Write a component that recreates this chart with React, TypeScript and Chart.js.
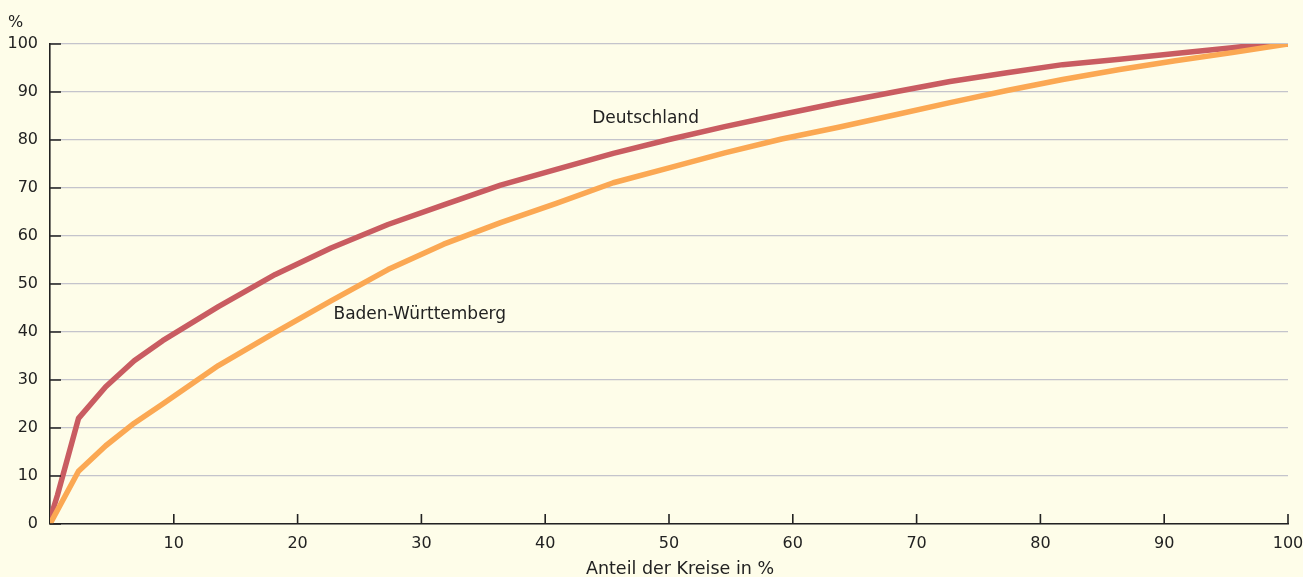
import React, { useEffect, useRef } from "react";
import { Chart, registerables } from "chart.js";

Chart.register(...registerables);

// ---- Data ----
const deutschlandX = [0, 0.6, 2.3, 4.5, 6.8, 9.1, 13.6, 18.2, 22.7, 27.3, 31.8, 36.4, 40.9, 45.5, 50, 54.5, 59.1, 63.6, 68.2, 72.7, 77.3, 81.8, 86.4, 90.9, 95.5, 97.7, 100];
const deutschlandY = [1, 6, 22, 28.6, 34, 38.2, 45.3, 52.0, 57.5, 62.4, 66.5, 70.6, 73.9, 77.2, 80.1, 82.8, 85.3, 87.7, 90.0, 92.2, 94.0, 95.7, 96.8, 98.0, 99.2, 99.9, 100];

const bwX = [0, 2.3, 4.5, 6.8, 9.1, 13.6, 18.2, 22.7, 27.3, 31.8, 36.4, 40.9, 45.5, 50, 54.5, 59.1, 63.6, 68.2, 72.7, 77.3, 81.8, 86.4, 90.9, 95.5, 100];
const bwY = [0, 11, 16.3, 21.0, 25.0, 33.0, 39.9, 46.5, 53.0, 58.3, 62.8, 66.8, 71.1, 74.2, 77.3, 80.2, 82.6, 85.2, 87.8, 90.3, 92.6, 94.7, 96.5, 98.2, 100];

const xTickValues = [10, 20, 30, 40, 50, 60, 70, 80, 90, 100];
const yTickValues = [0, 10, 20, 30, 40, 50, 60, 70, 80, 90, 100];

const seriesNames = ["Baden-Württemberg", "Deutschland"];
const xAxisTitle = "Anteil der Kreise in %";
const yAxisUnit = "%";

const BG = "#FEFDE9";
const INK = "#222222";
const FONT = "'DejaVu Sans', 'Liberation Sans', sans-serif";

export default function App() {
  const canvasRef = useRef<HTMLCanvasElement | null>(null);

  useEffect(() => {
    document.body.style.margin = "0";
    document.body.style.background = BG;
    const canvas = canvasRef.current;
    if (!canvas) return;

    const decorPlugin = {
      id: "decor",
      beforeDraw(chart: any) {
        const { ctx, width, height } = chart;
        ctx.save();
        ctx.fillStyle = BG;
        ctx.fillRect(0, 0, width, height);
        ctx.restore();
      },
      afterDraw(chart: any) {
        const { ctx, chartArea } = chart;
        const xs = chart.scales.x;
        const ys = chart.scales.y;
        ctx.save();
        // inward tick marks
        ctx.strokeStyle = INK;
        ctx.lineWidth = 1.6;
        ctx.beginPath();
        xTickValues.forEach((v) => {
          const px = xs.getPixelForValue(v);
          ctx.moveTo(px, chartArea.bottom);
          ctx.lineTo(px, chartArea.bottom - 10);
        });
        yTickValues.forEach((v) => {
          const py = ys.getPixelForValue(v);
          ctx.moveTo(chartArea.left, py);
          ctx.lineTo(chartArea.left + 11, py);
        });
        ctx.stroke();

        ctx.fillStyle = INK;
        ctx.textBaseline = "alphabetic";
        // unit label
        ctx.font = `16px ${FONT}`;
        ctx.textAlign = "left";
        ctx.fillText(yAxisUnit, 8, 27);
        // x axis title
        ctx.font = `17.5px ${FONT}`;
        ctx.textAlign = "center";
        ctx.fillText(xAxisTitle, (chartArea.left + chartArea.right) / 2 + 11, 574);
        // series labels
        ctx.font = `17px ${FONT}`;
        ctx.textAlign = "left";
        ctx.fillText(seriesNames[1], xs.getPixelForValue(43.8), ys.getPixelForValue(83.5));
        ctx.fillText(seriesNames[0], xs.getPixelForValue(22.9), ys.getPixelForValue(42.7));
        ctx.restore();
      },
    };

    const chart = new Chart(canvas, {
      type: "line",
      data: {
        datasets: [
          {
            label: seriesNames[0],
            data: bwX.map((x, i) => ({ x, y: bwY[i] })),
            borderColor: "#FBA853",
            borderWidth: 5.5,
            pointRadius: 0,
            tension: 0,
            fill: false,
            borderJoinStyle: "round",
          },
          {
            label: seriesNames[1],
            data: deutschlandX.map((x, i) => ({ x, y: deutschlandY[i] })),
            borderColor: "#C95C61",
            borderWidth: 5.5,
            pointRadius: 0,
            tension: 0,
            fill: false,
            borderJoinStyle: "round",
          },
        ],
      },
      options: {
        animation: false,
        responsive: false,
        maintainAspectRatio: false,
        events: [],
        layout: { padding: { top: 44, right: 15, left: 0, bottom: 0 } },
        plugins: {
          legend: { display: false },
          tooltip: { enabled: false },
          title: { display: false },
        },
        scales: {
          x: {
            type: "linear",
            min: 0,
            max: 100,
            afterFit: (s: any) => {
              s.height = 53;
              s.paddingLeft = 0;
              s.paddingRight = 0;
            },
            ticks: {
              stepSize: 10,
              autoSkip: false,
              maxRotation: 0,
              padding: 10,
              color: INK,
              font: { family: FONT, size: 16 },
              callback: (v: any) => (v === 0 ? "" : String(v)),
            },
            grid: { drawOnChartArea: false, drawTicks: false },
            border: { color: INK, width: 1.6 },
          },
          y: {
            type: "linear",
            min: 0,
            max: 100,
            afterFit: (s: any) => {
              s.width = 50;
              s.paddingTop = 0;
              s.paddingBottom = 0;
            },
            ticks: {
              stepSize: 10,
              padding: 12,
              color: INK,
              font: { family: FONT, size: 16 },
            },
            grid: { color: "#C4C4CC", lineWidth: 1.2, drawTicks: false },
            border: { color: INK, width: 1.6 },
          },
        },
      },
      plugins: [decorPlugin],
    } as any);

    return () => {
      chart.destroy();
    };
  }, []);

  return (
    <div style={{ width: 1303, height: 577, background: BG }}>
      <canvas ref={canvasRef} width={1303} height={577} style={{ display: "block" }} />
    </div>
  );
}
